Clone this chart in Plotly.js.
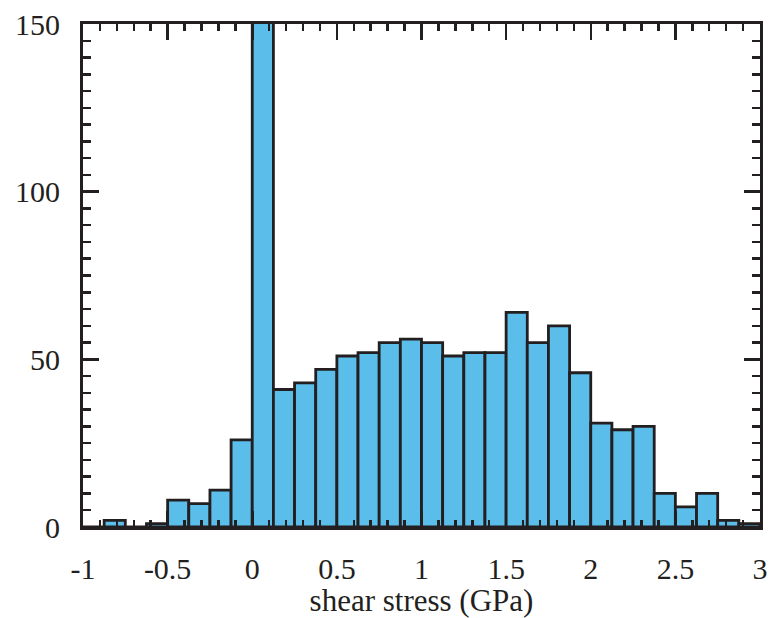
<!DOCTYPE html>
<html>
<head>
<meta charset="utf-8">
<script src="https://cdn.plot.ly/plotly-3.0.1.min.js"></script>
<style>
  html, body { margin: 0; padding: 0; background: #fff; }
  #chart { width: 783px; height: 618px; }
</style>
</head>
<body>
<div id="chart"></div>
<script>
// Histogram bins (left edges, GPa) and counts
const binStarts = [-1, -0.875, -0.75, -0.625, -0.5, -0.375, -0.25, -0.125,
                   0, 0.125, 0.25, 0.375, 0.5, 0.625, 0.75, 0.875,
                   1, 1.125, 1.25, 1.375, 1.5, 1.625, 1.75, 1.875,
                   2, 2.125, 2.25, 2.375, 2.5, 2.625, 2.75, 2.875];
const counts = [0, 2, 0, 1, 8, 7, 11, 26,
                160, 41, 43, 47, 51, 52, 55, 56,
                55, 51, 52, 52, 64, 55, 60, 46,
                31, 29, 30, 10, 6, 10, 2, 1];
const binWidth = 0.125;

const xTickVals = [-1, -0.5, 0, 0.5, 1, 1.5, 2, 2.5, 3];
const xTickText = ['-1', '-0.5', '0', '0.5', '1', '1.5', '2', '2.5', '3'];
const yTickVals = [0, 50, 100, 150];
const yTickText = ['0', '50', '100', '150'];

const ink = '#231f20';
const fontFam = 'Liberation Serif, Times New Roman, serif';

const trace = {
  type: 'bar',
  x: binStarts,
  y: counts,
  width: binWidth,
  offset: 0,
  marker: { color: '#5bbde9', line: { color: ink, width: 2.8 } },
  hoverinfo: 'x+y'
};

const layout = {
  width: 783, height: 618,
  margin: { l: 83, r: 23, t: 24, b: 91 },
  paper_bgcolor: '#ffffff',
  plot_bgcolor: '#ffffff',
  showlegend: false,
  bargap: 0,
  font: { family: fontFam, size: 30, color: ink },
  xaxis: {
    range: [-1, 3],
    tickmode: 'array', tickvals: xTickVals, ticktext: xTickText,
    ticks: 'inside', ticklen: 16, tickwidth: 2.5, tickcolor: ink,
    minor: { dtick: 0.1, tick0: -1, ticks: 'inside', ticklen: 7, tickwidth: 2.5, tickcolor: ink, showgrid: false },
    showline: true, linecolor: ink, linewidth: 3, mirror: 'allticks',
    showgrid: false, zeroline: false,
    ticklabelstandoff: 13,
    tickfont: { family: fontFam, size: 30, color: ink },
    title: { text: 'shear stress (GPa)', font: { family: fontFam, size: 31, color: ink }, standoff: 0 }
  },
  yaxis: {
    range: [0, 150],
    tickmode: 'array', tickvals: yTickVals, ticktext: yTickText,
    ticks: 'inside', ticklen: 16, tickwidth: 2.5, tickcolor: ink,
    minor: { dtick: 5, tick0: 0, ticks: 'inside', ticklen: 8, tickwidth: 2.5, tickcolor: ink, showgrid: false },
    showline: true, linecolor: ink, linewidth: 3, mirror: 'allticks',
    showgrid: false, zeroline: false,
    ticklabelstandoff: 14,
    tickfont: { family: fontFam, size: 30, color: ink }
  }
};

Plotly.newPlot('chart', [trace], layout, { displayModeBar: false, staticPlot: true });
</script>
</body>
</html>
